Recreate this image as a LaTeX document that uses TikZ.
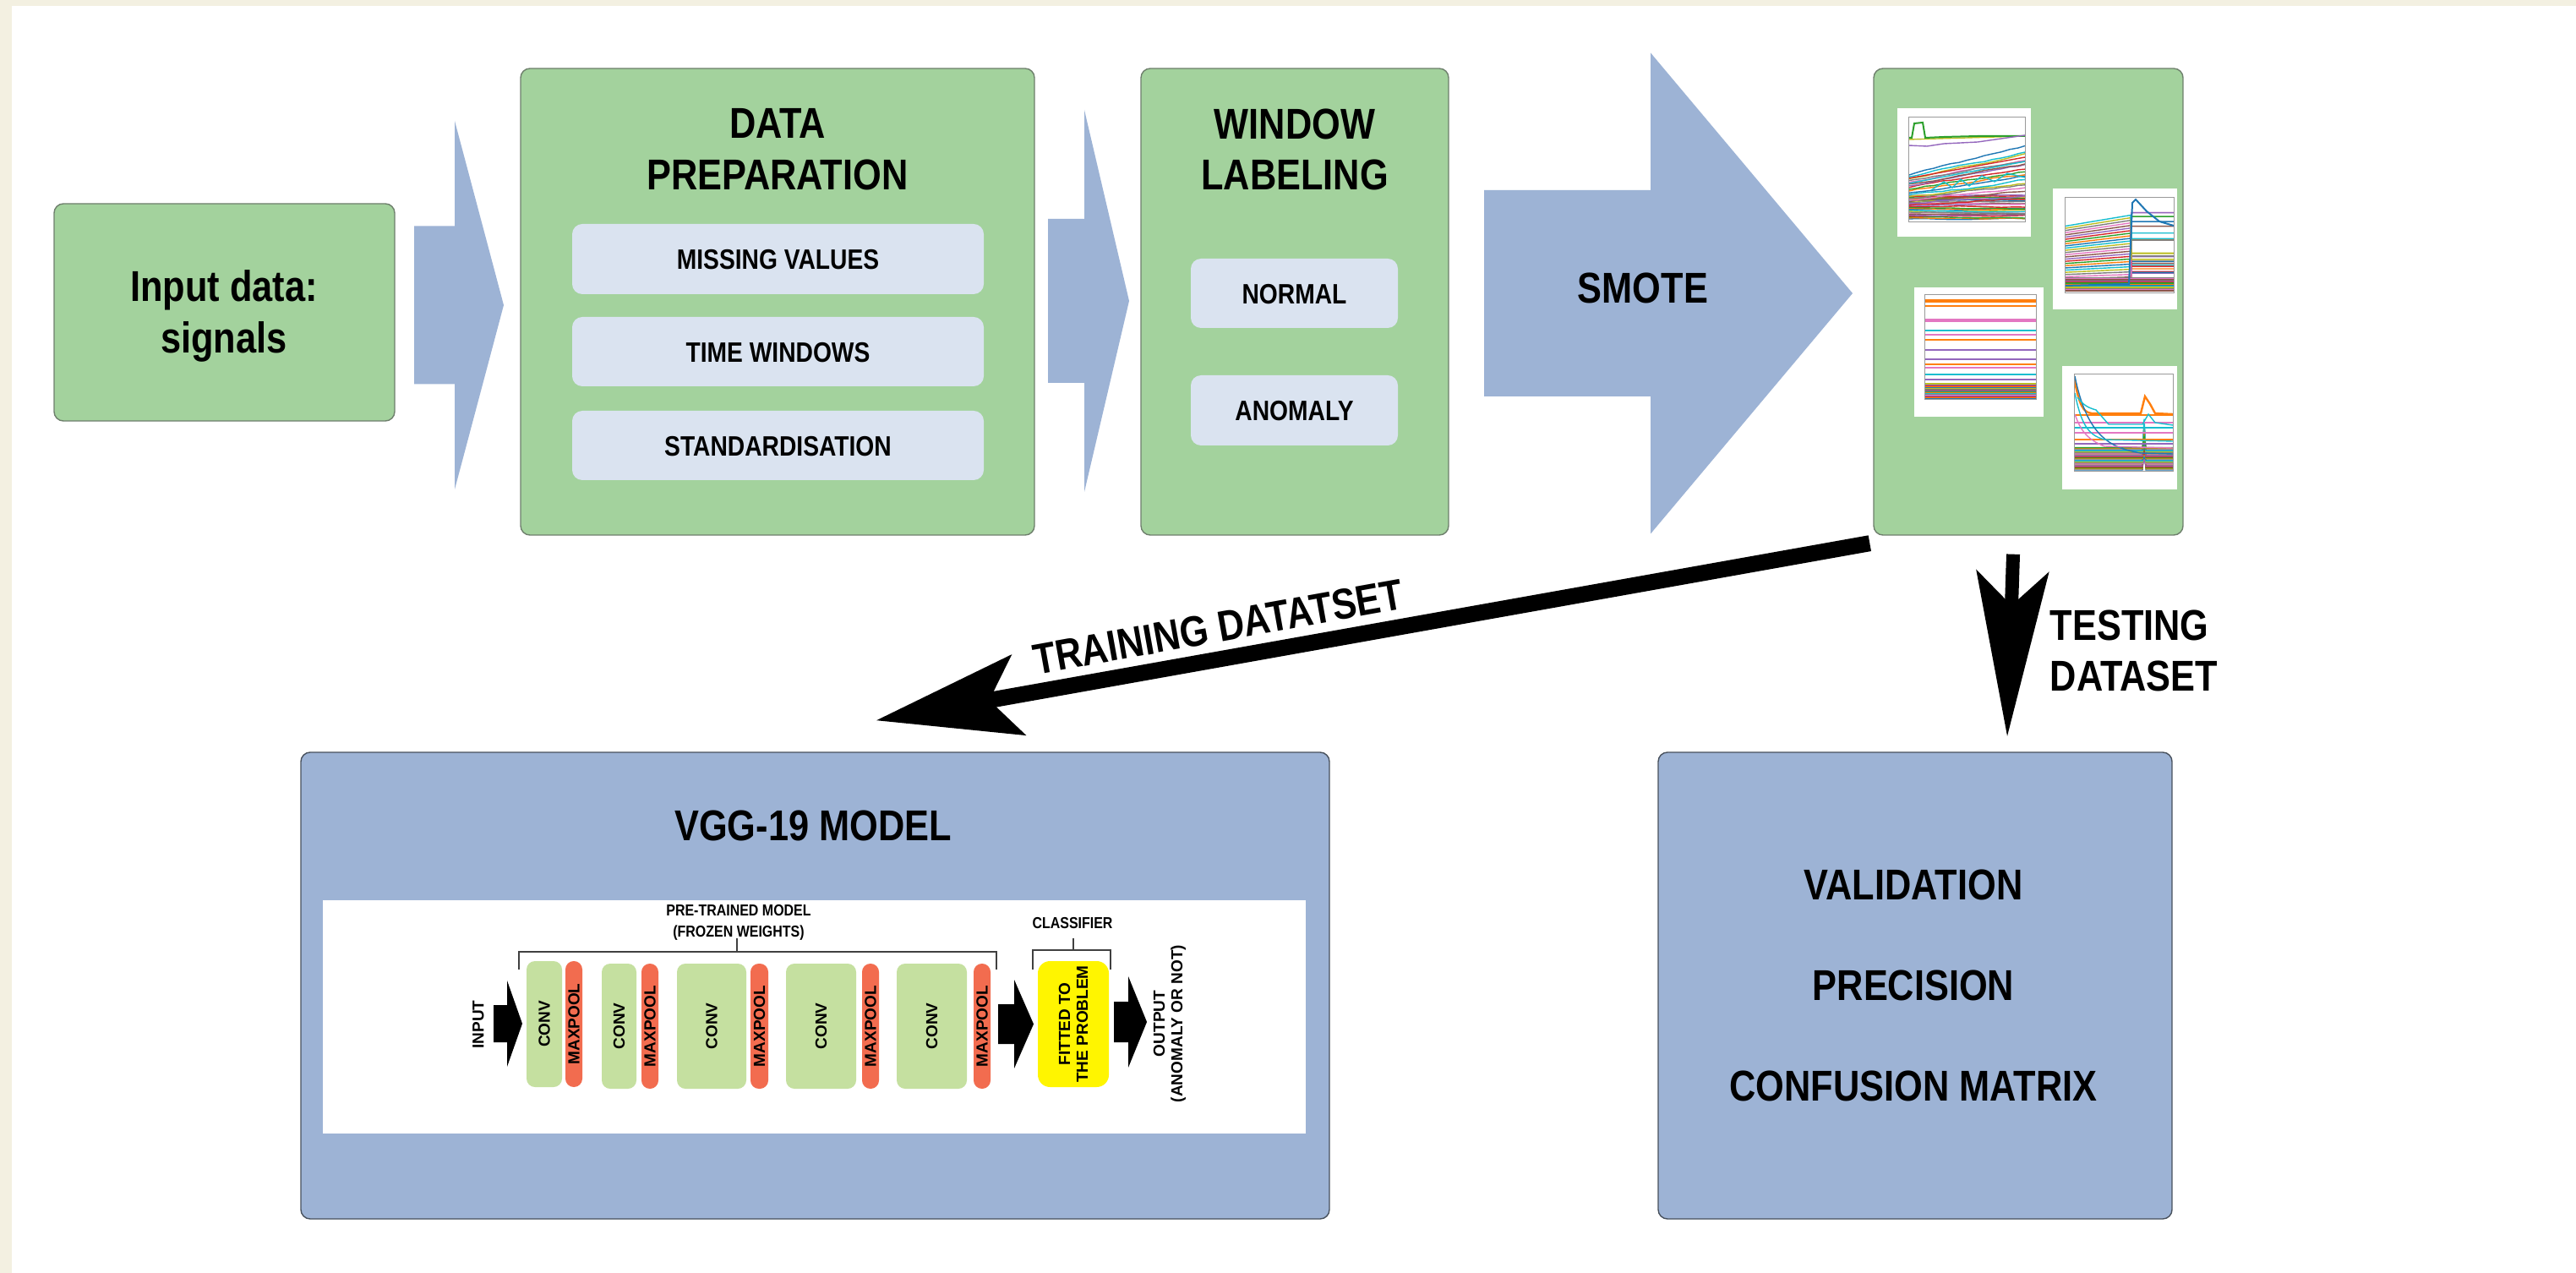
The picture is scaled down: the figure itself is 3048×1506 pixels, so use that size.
\documentclass[tikz,border=0pt]{standalone}
\usepackage{fontspec}
\usepackage{graphicx}
\usetikzlibrary{arrows.meta,fit,calc}
\newfontfamily\cond{Liberation Sans}[FakeStretch=0.85]
\newfontfamily\plainsans{Liberation Sans}
\newcommand{\fntBig}{\cond\bfseries\fontsize{12.75pt}{15.2pt}\selectfont}
\newcommand{\fntSub}{\cond\bfseries\fontsize{8.3pt}{10pt}\selectfont}
\newcommand{\fntVgg}{\cond\bfseries\fontsize{4.7pt}{6.25pt}\selectfont}
\newcommand{\fntRot}{\plainsans\bfseries\fontsize{4.75pt}{5.25pt}\selectfont}
\newcommand{\fntVal}{\cond\bfseries\fontsize{12.75pt}{29.75pt}\selectfont}
\definecolor{beige}{HTML}{F3F0E1}
\definecolor{gfill}{HTML}{A3D29D}
\definecolor{gbord}{HTML}{6E7F6C}
\definecolor{subfill}{HTML}{DAE3F0}
\definecolor{bfill}{HTML}{9DB3D5}
\definecolor{bbord}{HTML}{47505C}
\definecolor{convg}{HTML}{C5E0A0}
\definecolor{mpred}{HTML}{F26C4F}
\definecolor{yel}{HTML}{FFF500}
\definecolor{brk}{HTML}{404040}
\definecolor{framec}{HTML}{9A9A9A}
\definecolor{c0}{HTML}{1F77B4}
\definecolor{c1}{HTML}{FF7F0E}
\definecolor{c2}{HTML}{2CA02C}
\definecolor{c3}{HTML}{D62728}
\definecolor{c4}{HTML}{9467BD}
\definecolor{c5}{HTML}{8C564B}
\definecolor{c6}{HTML}{E377C2}
\definecolor{c7}{HTML}{7F7F7F}
\definecolor{c8}{HTML}{BCBD22}
\definecolor{c9}{HTML}{17BECF}
% block arrow: [style]{x start}{x head}{x tip}{y centre}{shaft half}{head half}
\newcommand{\blockarrow}[7][]{%
  \fill[#1] (#2,{#5-#6}) -- (#3,{#5-#6}) -- (#3,{#5-#7}) -- (#4,#5) -- (#3,{#5+#7}) -- (#3,{#5+#6}) -- (#2,{#5+#6}) -- cycle;}
\begin{document}
\begin{tikzpicture}[x=0.25pt,y=-0.25pt,
  greenbox/.style={draw=gbord, fill=gfill, line width=0.35pt, rounded corners=2.75pt, inner sep=0pt},
  bluebox/.style={draw=bbord, fill=bfill, line width=0.35pt, rounded corners=2.75pt, inner sep=0pt},
  subbox/.style={fill=subfill, rounded corners=3pt, inner sep=0pt},
  subtext/.style={font=\fntSub, inner sep=0pt},
  bigtext/.style={font=\fntBig, align=center, inner sep=0pt},
  convbox/.style={fill=convg, rounded corners=2.5pt, inner sep=0pt},
  poolbox/.style={fill=mpred, rounded corners=2.45pt, inner sep=0pt},
  yelbox/.style={fill=yel, rounded corners=3.6pt, inner sep=0pt},
  rottext/.style={font=\fntRot, rotate=90, align=center, inner sep=0pt},
  vggtext/.style={font=\fntVgg, align=center, inner sep=0pt},
  bracket/.style={draw=brk, line width=0.5pt},
  plotline/.style={line width=0.35pt},
  chartimg/.style={fill=white, inner sep=0pt},
  chartframe/.style={draw=framec, line width=0.2pt}]
\useasboundingbox (0,0) rectangle (3048,1506);
\fill[beige] (0,0) rectangle (3048,1506);
\fill[white] (14,7) rectangle (3048,1506);
\pgfmathsetseed{7}

% ---------------- top row boxes
\node[greenbox, fit={(64,241)(467,498)}] (in) {};
\node[bigtext] (t-in) at (265,374) {Input data:\\signals};

\node[greenbox, fit={(616,81)(1224,633)}] (prep) {};
\node[bigtext] (t-prep) at (920,177) {DATA\\PREPARATION};
\node[subbox, fit={(677,265)(1164,348)}] (mv) {};
\node[subtext] (l-mv) at ($(mv.center)+(0,1)$) {MISSING VALUES};
\node[subbox, fit={(677,375)(1164,457)}] (tw) {};
\node[subtext] (l-tw) at ($(tw.center)+(0,1)$) {TIME WINDOWS};
\node[subbox, fit={(677,486)(1164,568)}] (st) {};
\node[subtext] (l-st) at ($(st.center)+(0,1)$) {STANDARDISATION};

\node[greenbox, fit={(1350,81)(1714,633)}] (win) {};
\node[bigtext] (t-win) at (1532,177) {WINDOW\\LABELING};
\node[subbox, fit={(1409,306)(1654,388)}] (nor) {};
\node[subtext] (l-nor) at ($(nor.center)+(0,1)$) {NORMAL};
\node[subbox, fit={(1409,444)(1654,527)}] (ano) {};
\node[subtext] (l-ano) at ($(ano.center)+(0,1)$) {ANOMALY};

\node[greenbox, fit={(2217,81)(2583,633)}] (charts) {};

% blue block arrows
\blockarrow[bfill]{490}{538}{596}{361}{93.5}{218}
\blockarrow[bfill]{1240}{1283}{1336}{356}{97}{226}
\blockarrow[bfill]{1756}{1953}{2192}{347}{122}{284.5}
\node[bigtext] (t-smote) at (1944,341) {SMOTE};

% ---------------- chart thumbnails
% chart 1
\node[chartimg, fit={(2245,128)(2403,280)}] (ch1) {};
\begin{scope}
\clip (2258,138) rectangle (2396,262);
\foreach \i in {0,...,24}{
  \pgfmathtruncatemacro\ci{mod(\i,10)}
  \pgfmathsetmacro\yy{259-\i*1.15}
  \draw[plotline, color=c\ci] (2258,\yy) \foreach \k in {1,...,14}{ -- ++(10,{(rnd-0.5)*1.0}) };
}
\foreach \i in {0,...,17}{
  \pgfmathtruncatemacro\ci{mod(\i+3,10)}
  \pgfmathsetmacro\yy{243-\i*2.1}
  \pgfmathsetmacro\dy{-(10+\i*1.3)/14}
  \draw[plotline, color=c\ci] (2258,\yy) \foreach \k in {1,...,14}{ -- ++(10,{\dy+(rnd-0.5)*2}) };
}
\draw[plotline, c3] (2258,211) -- (2396,186);
\draw[plotline, c9] (2258,217) -- (2396,191);
\draw[plotline, c9] (2285,225) -- (2300,215) -- (2310,222) -- (2320,212) -- (2330,220) -- (2345,208) -- (2360,215) -- (2375,205) -- (2396,210);
\draw[plotline, c8] (2258,165) -- (2396,161);
\draw[plotline, c2, line width=0.5pt] (2258,163) -- (2262,163) -- (2265,146) -- (2275,145) -- (2278,163) -- (2300,162) -- (2340,161) -- (2396,161);
\draw[plotline, c4] (2258,172) -- (2280,173) -- (2300,170) -- (2340,168) -- (2396,160);
\end{scope}
\draw[chartframe] (2258,138) rectangle (2396,262);

% chart 2
\node[chartimg, fit={(2429,223)(2576,366)}] (ch2) {};
\begin{scope}
\clip (2443,233) rectangle (2572,346);
\foreach \i in {0,...,29}{
  \pgfmathtruncatemacro\ci{mod(\i,10)}
  \pgfmathsetmacro\ya{343-\i*2.6}
  \pgfmathsetmacro\yb{\ya-\i*0.45}
  \pgfmathsetmacro\yc{250+rnd*92}
  \draw[plotline, color=c\ci] (2443,\ya) -- (2521,\yb) -- (2522,\yc) -- (2572,\yc);
}
\foreach \i in {0,...,12}{
  \pgfmathtruncatemacro\ci{mod(\i+5,10)}
  \pgfmathsetmacro\ya{344-\i*1.3}
  \draw[plotline, color=c\ci] (2443,\ya) -- (2572,\ya);
}
\draw[plotline, c0, line width=0.5pt] (2443,338) -- (2519,336) -- (2523,240) -- (2527,236) -- (2540,250) -- (2555,262) -- (2572,267);
\end{scope}
\draw[chartframe] (2443,233) rectangle (2572,346);

% chart 3
\node[chartimg, fit={(2265,340)(2418,493)}] (ch3) {};
\begin{scope}
\clip (2277,348) rectangle (2409,472);
\foreach \yy/\cc in {355/c1, 357/c1, 362/c1, 378/c6, 380/c6, 391/c9, 396/c6, 402/c1, 414/c4, 425/c4, 431/c1, 435/c6, 443/c9, 449/c4, 454/c8, 456/c7}{
  \draw[plotline, color=\cc] (2277,\yy) -- (2409,\yy);
}
\draw[plotline, c1, line width=0.7pt] (2277,355) -- (2409,355);
\foreach \i in {0,...,24}{
  \pgfmathtruncatemacro\ci{mod(\i,10)}
  \pgfmathsetmacro\yy{471-\i*0.65}
  \draw[plotline, color=c\ci] (2277,\yy) -- (2409,\yy);
}
\end{scope}
\draw[chartframe] (2277,348) rectangle (2409,472);

% chart 4
\node[chartimg, fit={(2440,433)(2576,579)}] (ch4) {};
\begin{scope}
\clip (2454,442) rectangle (2571,557);
\foreach \i in {0,...,22}{
  \pgfmathtruncatemacro\ci{mod(\i,10)}
  \pgfmathsetmacro\yy{556-\i*1.2}
  \pgfmathsetmacro\ys{\yy-45*rnd}
  \draw[plotline, color=c\ci] (2454,\yy) -- (2535,\yy) -- (2537,\ys) -- (2539,\yy) -- (2571,\yy);
}
\foreach \yy/\cc in {491/c1, 500/c6, 506/c9, 512/c6, 520/c1, 525/c4}{
  \draw[plotline, color=\cc] (2454,\yy) -- (2571,\yy);
}
\draw[plotline, c1, line width=0.6pt] (2454,446) .. controls (2460,480) and (2465,488) .. (2475,489) -- (2533,489) -- (2538,469) -- (2544,478) -- (2550,489) -- (2571,490);
\draw[plotline, c0] (2455,445) .. controls (2470,520) and (2500,530) .. (2533,536) -- (2571,537);
\draw[plotline, c9] (2455,465) .. controls (2462,500) and (2470,515) .. (2490,520) -- (2571,522);
\draw[plotline, c9] (2458,470) .. controls (2466,480) and (2470,482) .. (2480,485) -- (2495,502) -- (2535,502) -- (2542,490) -- (2550,500) -- (2571,503);
\draw[plotline, c6] (2455,490) .. controls (2462,510) and (2470,520) .. (2490,528) -- (2571,530);
\end{scope}
\draw[chartframe] (2454,442) rectangle (2571,557);

% ---------------- bottom boxes
\node[bluebox, fit={(356,890)(1573,1442)}] (vgg) {};
\node[bigtext] (t-vgg) at (962,977) {VGG-19 MODEL};
\node[fill=white, inner sep=0pt, fit={(382,1065)(1545,1341)}] (img) {};

\node[bluebox, fit={(1962,890)(2570,1442)}] (val) {};
\node[font=\fntVal, align=center, inner sep=0pt] (l-val) at ($(val.center)+(-2,0)$) {VALIDATION\\PRECISION\\CONFUSION MATRIX};

% ---------------- VGG inner diagram
\node[vggtext] (t-pt) at (874,1091) {PRE-TRAINED MODEL\\(FROZEN WEIGHTS)};
\node[vggtext] (t-cl) at (1269,1092) {CLASSIFIER};
\draw[bracket] (614,1147) |- (1179,1126) -- (1179,1147);
\draw[bracket] (872,1110) -- (872,1126);
\draw[bracket] (1222,1147) |- (1314,1124) -- (1314,1147);
\draw[bracket] (1270,1110) -- (1270,1124);

\node[rottext] (t-input) at (566,1212) {INPUT};
\blockarrow[black]{584}{600}{618}{1211}{22}{51}

\node[convbox, fit={(623,1137)(665,1286)}] (cv1) {};
\node[poolbox, fit={(669,1137)(689,1286)}] (mp1) {};
\node[convbox, fit={(712,1140)(753,1288)}] (cv2) {};
\node[poolbox, fit={(759,1140)(779,1288)}] (mp2) {};
\node[convbox, fit={(801,1140)(883,1288)}] (cv3) {};
\node[poolbox, fit={(888,1140)(909,1288)}] (mp3) {};
\node[convbox, fit={(930,1140)(1013,1288)}] (cv4) {};
\node[poolbox, fit={(1020,1140)(1040,1288)}] (mp4) {};
\node[convbox, fit={(1061,1140)(1144,1288)}] (cv5) {};
\node[poolbox, fit={(1152,1140)(1172,1288)}] (mp5) {};
\foreach \n in {cv1,cv2,cv3,cv4,cv5}{ \node[rottext] (l-\n) at (\n.center) {CONV}; }
\foreach \n in {mp1,mp2,mp3,mp4,mp5}{ \node[rottext] (l-\n) at (\n.center) {MAXPOOL}; }

\blockarrow[black]{1181}{1200}{1223}{1211.5}{23.5}{52.5}
\node[yelbox, fit={(1228,1137)(1312,1286)}] (cls) {};
\node[rottext] (l-cls) at (cls.center) {FITTED TO\\THE PROBLEM};
\blockarrow[black]{1318}{1335}{1357}{1209}{24}{54}
\node[rottext] (t-out) at (1384,1211) {OUTPUT\\(ANOMALY OR NOT)};

% ---------------- black connectors
\coordinate (trA) at ($(charts.south west)+(-4,9)$);
\coordinate (trB) at ($(vgg.north)+(72,-37)$);
\draw[line width=4.75pt, -{Stealth[length=42.5pt, width=23.75pt, inset=8.5pt]}] (trA) -- (trB);
\node[bigtext, rotate=10.2] (t-train) at (1441,742) {TRAINING DATATSET};

\coordinate (teA) at ($(charts.south)+(-18,22)$);
\coordinate (teB) at ($(val.north)+(109,-18)$);
\draw[line width=4pt, -{Stealth[length=48.75pt, width=21.25pt, inset=10pt]}] (teA) -- (teB);
\node[bigtext, align=left, anchor=west] (t-test) at (2425,770) {TESTING\\DATASET};
\end{tikzpicture}
\end{document}
